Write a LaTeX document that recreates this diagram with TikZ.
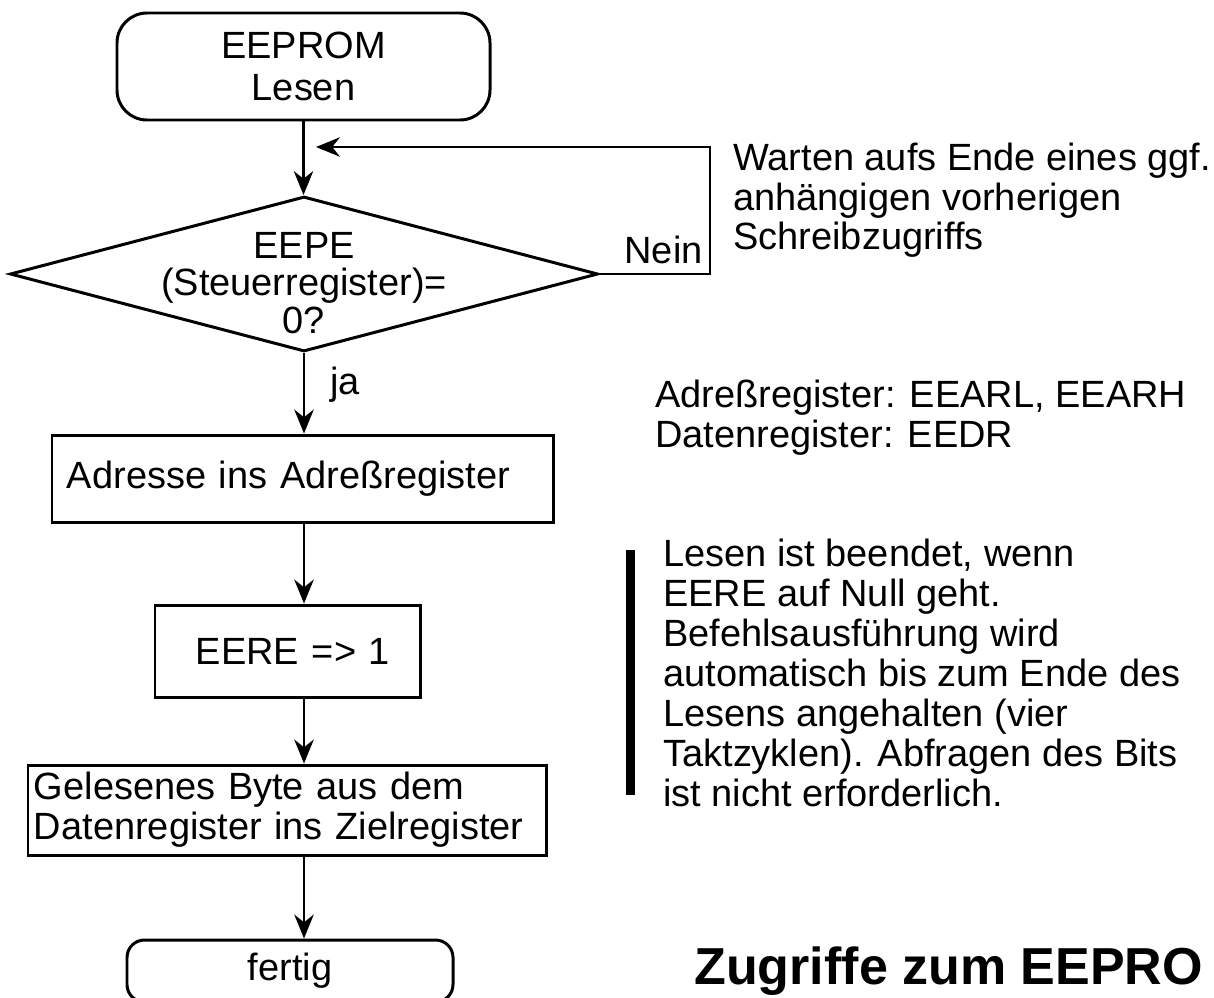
\documentclass[tikz,border=0pt]{standalone}
\usepackage{fontspec}
\setmainfont{Liberation Sans}
\usepackage{tikz}
\usetikzlibrary{arrows.meta,positioning,shapes.geometric}
\definecolor{fcedge}{RGB}{0,0,0}
\definecolor{fcink}{RGB}{0,0,0}
\newcommand\fcfont{\fontsize{21.6pt}{22.4pt}\selectfont}
\tikzset{
  fcbox/.style={
    draw=fcedge, line width=1.7pt, inner sep=0pt,
    font=\fcfont, text=fcink
  },
  term/.style={fcbox, rounded corners=0.6cm, align=center},
  act/.style={fcbox, align=left, inner xsep=0.3cm},
  dec/.style={
    draw=fcedge, line width=1.7pt, diamond, inner sep=0pt,
    minimum width=11.76cm, minimum height=3.1cm
  },
  dtext/.style={font=\fontsize{21.6pt}{21.3pt}\selectfont, align=center, inner sep=0pt},
  arr/.style={-{Stealth[length=4.8mm,width=3.9mm]}, draw=fcedge, line width=1.2pt},
  back/.style={arr, line width=0.8pt},
  note/.style={font=\fcfont, align=left, anchor=north west, inner sep=0pt},
  lbl/.style={font=\fcfont, inner sep=0pt},
  ttl/.style={font=\fontsize{29.6pt}{30pt}\selectfont\bfseries, inner sep=0pt, anchor=base west}
}
\begin{document}
\begin{tikzpicture}[x=0.2mm,y=-0.2mm]
  \useasboundingbox (0,0) rectangle (1214,997);
  \clip (0,0) rectangle (1214,997);
  \node[term, minimum width=7.46cm, minimum height=2.14cm, font=\fontsize{21.6pt}{25.5pt}\selectfont] (start) at (303.5,66.5) {\raisebox{-2pt}{EEPROM}\\Lesen};
  \node[dec] (chk) at (304,274) {};
  \node[dtext] (chktxt) at (304,283) {EEPE\\(Steuerregister)=\\0?};
  \node[act, text width=9.42cm, minimum height=1.74cm] (addr) at (302.5,478.5) {Adresse ins Adreßregister};
  \node[act, align=right, text width=4.1cm, inner xsep=0.6cm, minimum height=1.84cm] (eere) at (287.5,651) {EERE => 1};
  \node[act, text width=10.12cm, inner xsep=0.12cm, minimum height=1.8cm, font=\fontsize{21.6pt}{22.7pt}\selectfont] (read) at (287,810) {Gelesenes Byte aus dem\\Datenregister ins Zielregister};
  \node[term, rounded corners=0.35cm, minimum width=6.52cm, minimum height=1.24cm] (done) at (290,971) {fertig};
  \coordinate (loopc) at (710,147);
  \coordinate (backin) at (316,147);
  \draw[arr] (start.south) -- (start.south |- chk.north);
  \draw[back] (chk.east) -| (loopc) -- (backin);
  \draw[arr] (chk.south) -- (chk.south |- addr.north);
  \draw[arr] (chk.south |- addr.south) -- (chk.south |- eere.north);
  \draw[arr] (chk.south |- eere.south) -- (chk.south |- read.north);
  \draw[arr] (chk.south |- read.south) -- (chk.south |- done.north);
  \node[lbl, anchor=base east] (nein) at (703,263) {Nein};
  \node[lbl, anchor=base west] (ja) at (330,394) {ja};
  \node[note] (wait) at (733,143) {Warten aufs Ende eines ggf.\\anhängigen vorherigen\\Schreibzugriffs};
  \node[note] (regs) at (655,380) {Adreßregister: EEARL, EEARH\\Datenregister: EEDR};
  \fill[fcedge] (626,550) rectangle (635,795);
  \node[note, font=\fontsize{21.6pt}{22.7pt}\selectfont] (info) at (663,539) {Lesen ist beendet, wenn\\EERE auf Null geht.\\Befehlsausführung wird\\automatisch bis zum Ende des\\Lesens angehalten (vier\\Taktzyklen). Abfragen des Bits\\ist nicht erforderlich.};
  \node[ttl] (title) at (694,984) {Zugriffe zum EEPRO};
\end{tikzpicture}
\end{document}
